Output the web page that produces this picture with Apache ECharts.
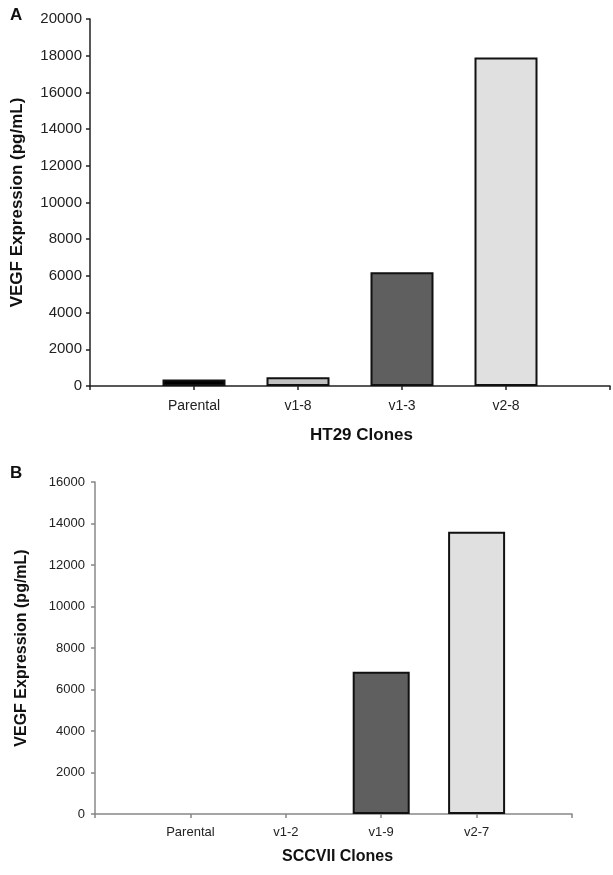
<!DOCTYPE html>
<html>
<head>
<meta charset="utf-8">
<script src="https://cdn.jsdelivr.net/npm/echarts@6/dist/echarts.min.js"></script>
<style>
html,body{margin:0;padding:0;background:#fff;}
#chart{width:613px;height:875px;}
</style>
</head>
<body>
<div id="chart"></div>
<script>
// ---- Data ----
const categoriesA = ['Parental', 'v1-8', 'v1-3', 'v2-8'];
const valuesA = [350, 480, 6200, 17900];
const colorsA = ['#000000', '#c0c0c0', '#5f5f5f', '#e0e0e0'];

const categoriesB = ['Parental', 'v1-2', 'v1-9', 'v2-7'];
const valuesB = [0, 0, 6850, 13600];
const colorsB = ['#000000', '#c0c0c0', '#5f5f5f', '#e0e0e0'];

const yAxisA = { min: 0, max: 20000, interval: 2000 };
const yAxisB = { min: 0, max: 16000, interval: 2000 };

const yTitle = 'VEGF Expression (pg/mL)';
const xTitleA = 'HT29 Clones';
const xTitleB = 'SCCVII Clones';

// ---- Build ----
function padCats(c) { return [''].concat(c, ['']); }
function padVals(v, colors) {
  return [null].concat(v.map((val, i) => ({
    value: val,
    itemStyle: { color: colors[i], borderWidth: val === 0 ? 0 : 2 }
  })), [null]);
}

const font = 'Liberation Sans, Arial, Helvetica, sans-serif';
const chart = echarts.init(document.getElementById('chart'), null, { renderer: 'canvas' });
const plain = v => String(v);

const option = {
  animation: false,
  textStyle: { fontFamily: font },
  grid: [
    { left: 90, right: 0, top: 19, height: 367 },
    { left: 95, right: 41, top: 482, height: 332 }
  ],
  xAxis: [
    {
      gridIndex: 0, type: 'category', boundaryGap: false, data: padCats(categoriesA),
      axisLine: { lineStyle: { color: '#222', width: 1.5 } },
      axisTick: { show: true, interval: 0, length: 4, lineStyle: { color: '#222', width: 1.5 } },
      axisLabel: { interval: 0, fontSize: 14, color: '#222', margin: 13 }
    },
    {
      gridIndex: 1, type: 'category', boundaryGap: false, data: padCats(categoriesB),
      axisLine: { lineStyle: { color: '#888', width: 1.5 } },
      axisTick: { show: true, interval: 0, length: 4, lineStyle: { color: '#888', width: 1.5 } },
      axisLabel: { interval: 0, fontSize: 13, color: '#222', margin: 12 }
    }
  ],
  yAxis: [
    {
      gridIndex: 0, type: 'value', min: yAxisA.min, max: yAxisA.max, interval: yAxisA.interval,
      name: yTitle, nameLocation: 'middle', nameRotate: 90, nameGap: 64,
      nameTextStyle: { fontSize: 17, fontWeight: 'bold', color: '#111' },
      axisLine: { show: true, lineStyle: { color: '#222', width: 1.5 } },
      axisTick: { show: true, length: 4, lineStyle: { color: '#222', width: 1.5 } },
      splitLine: { show: false },
      axisLabel: { fontSize: 15, color: '#222', margin: 8, formatter: plain }
    },
    {
      gridIndex: 1, type: 'value', min: yAxisB.min, max: yAxisB.max, interval: yAxisB.interval,
      name: yTitle, nameLocation: 'middle', nameRotate: 90, nameGap: 65,
      nameTextStyle: { fontSize: 16, fontWeight: 'bold', color: '#111' },
      axisLine: { show: true, lineStyle: { color: '#888', width: 1.5 } },
      axisTick: { show: true, length: 4, lineStyle: { color: '#888', width: 1.5 } },
      splitLine: { show: false },
      axisLabel: { fontSize: 13, color: '#222', margin: 10, formatter: plain }
    }
  ],
  series: [
    {
      type: 'bar', xAxisIndex: 0, yAxisIndex: 0, barWidth: 63,
      data: padVals(valuesA, colorsA),
      itemStyle: { borderColor: '#111', borderWidth: 2 }
    },
    {
      type: 'bar', xAxisIndex: 1, yAxisIndex: 1, barWidth: 57,
      data: padVals(valuesB, colorsB),
      itemStyle: { borderColor: '#111', borderWidth: 2 }
    }
  ],
  graphic: [
    { type: 'text', left: 10, top: 7, style: { text: 'A', font: 'bold 17px ' + font, fill: '#111' } },
    { type: 'text', left: 10, top: 465, style: { text: 'B', font: 'bold 17px ' + font, fill: '#111' } },
    { type: 'text', left: 310, top: 427, style: { text: xTitleA, font: 'bold 17px ' + font, fill: '#111' } },
    { type: 'text', left: 282, top: 849, style: { text: xTitleB, font: 'bold 16px ' + font, fill: '#111' } }
  ]
};
chart.setOption(option);
</script>
</body>
</html>
